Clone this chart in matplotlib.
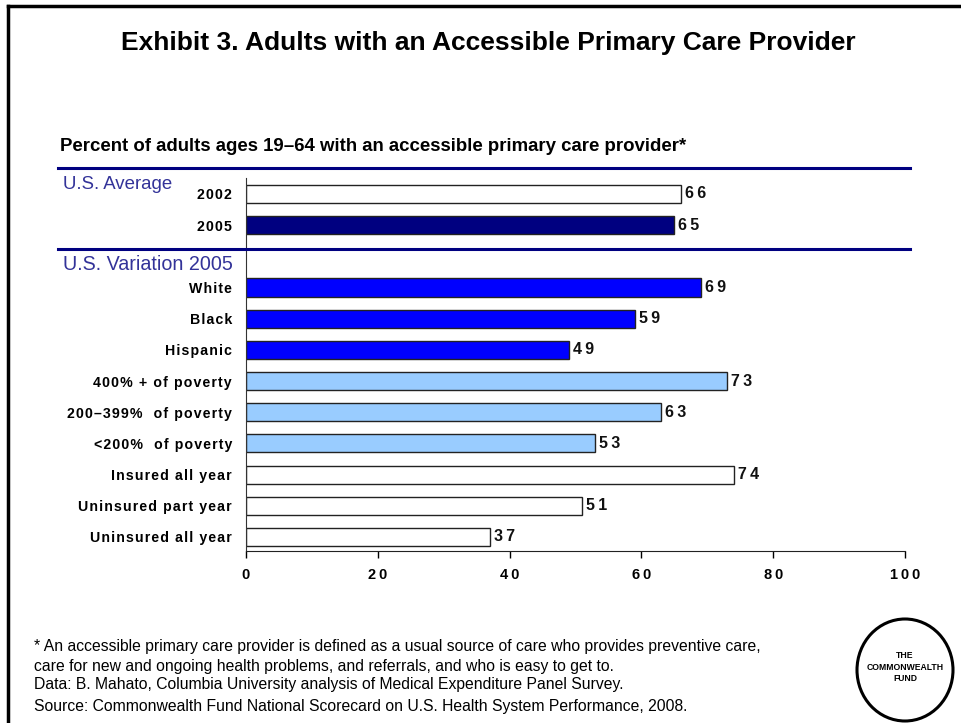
import matplotlib
matplotlib.use("Agg")
import matplotlib.pyplot as plt
from matplotlib.patches import Ellipse
from matplotlib.lines import Line2D

plt.rcParams["font.family"] = ["Liberation Sans", "DejaVu Sans"]

# rows from top to bottom; None marks the spacer between the two groups
labels = ["2002", "2005", None, "White", "Black", "Hispanic",
          "400% + of poverty", "200\u2013399%  of poverty", "<200%  of poverty",
          "Insured all year", "Uninsured part year", "Uninsured all year"]
values = [66, 65, None, 69, 59, 49, 73, 63, 53, 74, 51, 37]
fills = ["white", "#000080", None, "#0000FF", "#0000FF", "#0000FF",
         "#99CCFF", "#99CCFF", "#99CCFF", "white", "white", "white"]
xticks = [0, 20, 40, 60, 80, 100]


def spaced(s, gap="\u200a"):
    # wide tracking, as in the slide's bold labels
    return gap.join(s)


fig = plt.figure(figsize=(9.62, 7.23), dpi=100)
ax = fig.add_axes([0.2557, 0.2379, 0.685, 0.5159])

pos = [i for i, v in enumerate(values) if v is not None]
vals = [values[i] for i in pos]
cols = [fills[i] for i in pos]
ax.barh(pos, vals, height=0.58, color=cols, edgecolor="#222222", linewidth=1.0)
for y, v in zip(pos, vals):
    ax.text(v + 0.6, y, spaced(str(v), "\u2009"), va="center", ha="left",
            fontsize=11.5, fontweight="bold", color="#111111")

ax.set_yticks(pos)
ax.set_yticklabels([spaced(labels[i]) for i in pos], fontsize=10.2, fontweight="bold")
ax.tick_params(axis="y", length=0, pad=10)
ax.set_xlim(0, 100)
ax.set_ylim(11.45, -0.51)
ax.set_xticks(xticks)
ax.set_xticklabels([spaced(str(t), "\u2009") for t in xticks], fontsize=10.5,
                   fontweight="bold")
ax.tick_params(axis="x", direction="out", length=5, width=1, pad=7)
for side in ("top", "right"):
    ax.spines[side].set_visible(False)
ax.spines["left"].set_color("#333333")
ax.spines["bottom"].set_color("#222222")

# navy rules above each group
for yf in (0.7676, 0.6556):
    fig.add_artist(Line2D([0.060, 0.946], [yf, yf], color="#000080", lw=2.2,
                          transform=fig.transFigure))

# frame along the top and left edges
fig.add_artist(Line2D([0.008, 1.0], [0.992, 0.992], color="black", lw=2.5,
                      transform=fig.transFigure))
fig.add_artist(Line2D([0.008, 0.008], [0.0, 0.992], color="black", lw=2.5,
                      transform=fig.transFigure))

fig.text(0.508, 0.940, "Exhibit 3. Adults with an Accessible Primary Care Provider",
         ha="center", va="center", fontsize=19, fontweight="bold")
fig.text(0.062, 0.798,
         "Percent of adults ages 19\u201364 with an accessible primary care provider*",
         ha="left", va="center", fontsize=13.4, fontweight="bold")
fig.text(0.065, 0.745, "U.S. Average", ha="left", va="center",
         fontsize=13.4, color="#333399")
fig.text(0.065, 0.634, "U.S. Variation 2005", ha="left", va="center",
         fontsize=14.2, color="#333399")

notes = [
    "* An accessible primary care provider is defined as a usual source of care who provides preventive care,",
    "care for new and ongoing health problems, and referrals, and who is easy to get to.",
    "Data: B. Mahato, Columbia University analysis of Medical Expenditure Panel Survey.",
    "Source: Commonwealth Fund National Scorecard on U.S. Health System Performance, 2008.",
]
for yp, line in zip([647, 666, 685, 706], notes):
    fig.text(0.035, 1 - yp / 723, line, ha="left", va="center", fontsize=11.3)

# logo badge
fig.add_artist(Ellipse((905 / 962, 1 - 670 / 723), 96 / 962, 102 / 723,
                       transform=fig.transFigure, fill=False, lw=2.2,
                       edgecolor="black"))
fig.text(905 / 962, 1 - 667 / 723, "THE\nCOMMONWEALTH\nFUND", ha="center",
         va="center", fontsize=6.2, fontweight="bold", linespacing=1.4)

fig.savefig("out.png", dpi=100, facecolor="white")
